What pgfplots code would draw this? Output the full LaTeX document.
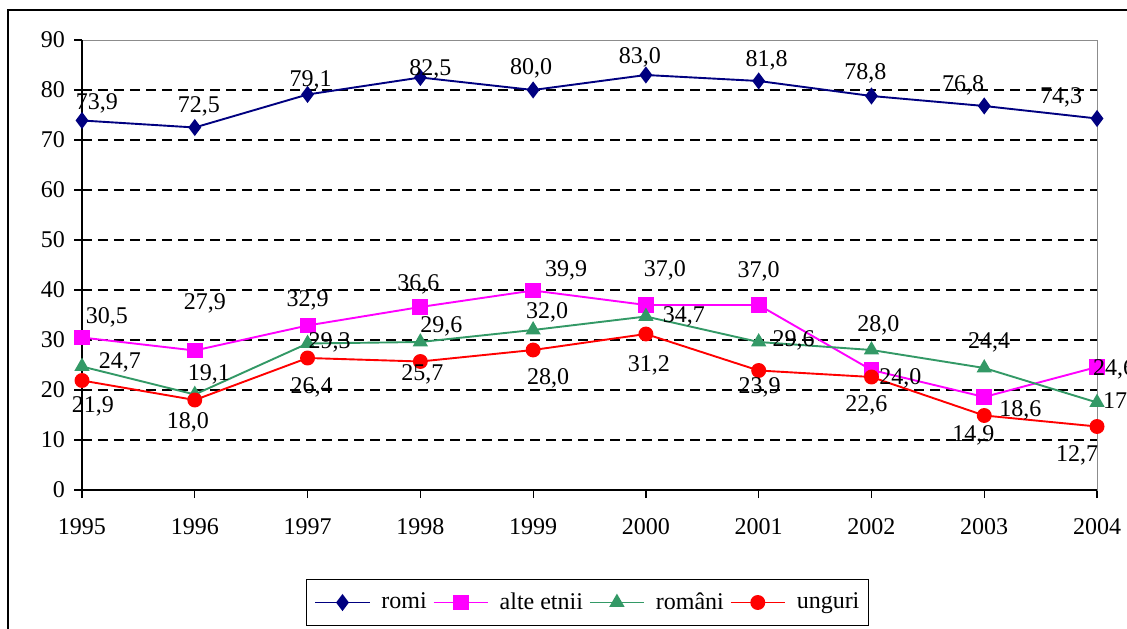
\documentclass[border=0pt]{standalone}
\usepackage{fontspec}
\setmainfont{Liberation Serif}
\usepackage{pgfplots}
\pgfplotsset{compat=1.18}
\usepackage{pgfplotstable}
\definecolor{cromi}{HTML}{000080}
\definecolor{calte}{HTML}{FF00FF}
\definecolor{cromani}{HTML}{339966}
\definecolor{cunguri}{HTML}{FF0000}

\pgfplotstableread{
x y dx dy
1995 73.9 15 17
1996 72.5 4 21
1997 79.1 3 14
1998 82.5 10 8
1999 80.0 -2 22
2000 83.0 -6 18
2001 81.8 8 21
2002 78.8 -6 23
2003 76.8 -21 21
2004 74.3 -36 21
}\tromi

\pgfplotstableread{
x y dx dy
1995 30.5 25 20
1996 27.9 10 47
1997 32.9 0 25
1998 36.6 -2 23
1999 39.9 33 20
2000 37.0 19 35
2001 37.0 0 34
2002 24.0 29 -8
2003 18.6 36 -13
2004 24.6 17 -2
}\talte

\pgfplotstableread{
x y dx dy
1995 24.7 38 4
1996 19.1 14 20
1997 29.3 22 1
1998 29.6 21 16
1999 32.0 14 18
2000 34.7 38 0
2001 29.6 35 2
2002 28.0 7 25
2003 24.4 5 26
2004 17.5 27 0
}\tromani

\pgfplotstableread{
x y dx dy
1995 21.9 11 -26
1996 18.0 -7 -22
1997 26.4 4 -29
1998 25.7 2 -13
1999 28.0 15 -28
2000 31.2 3 -31
2001 23.9 1 -17
2002 22.6 -5 -28
2003 14.9 -11 -20
2004 12.7 -20 -29
}\tunguri

\begin{document}
\fontsize{24}{28}\selectfont%
\begin{tikzpicture}
\useasboundingbox (-82pt,-139pt) rectangle (1045pt,490pt);
\fill[white] (-82pt,-139pt) rectangle (1045pt,490pt);
\draw[black, line width=1.5pt] (-74pt,-160pt) -- (-74pt,480pt) -- (1070pt,480pt);
\begin{axis}[
  scale only axis, width=1015pt, height=450pt,
  xmin=1995, xmax=2004, ymin=0, ymax=90,
  xtick={1995,1996,...,2004}, ytick={0,10,...,90},
  /pgf/number format/assume math mode=true,
  xticklabel style={/pgf/number format/1000 sep=, yshift=-12pt},
  yticklabel style={xshift=-1pt},
  tick align=outside, xtick pos=bottom, ytick pos=left,
  major tick length=8pt,
  tick style={black, line width=1.2pt},
  axis line style={black!45, line width=0.8pt},
  extra y ticks={10,20,...,80}, extra y tick labels={},
  extra y tick style={grid=major, major tick length=0pt},
  major grid style={black, line width=1.2pt, dash pattern=on 10pt off 6pt},
  clip=false,
  legend columns=4,
  legend style={at={(0.498,-0.25)}, anchor=center, draw=black, line width=1.2pt,
    /tikz/every even column/.append style={column sep=5pt},
    /tikz/every odd column/.append style={column sep=10pt},
    inner xsep=8pt, inner ysep=4pt, minimum height=38pt,
    nodes={inner xsep=1pt, inner ysep=6pt}},
  legend image code/.code={
    \draw[mark repeat=2,mark phase=2,#1] plot coordinates {(0pt,0pt) (27pt,0pt) (54pt,0pt)};
  },
  nodes near coords={\pgfmathprintnumber[fixed,fixed zerofill,precision=1,use comma]{\pgfplotspointmeta}},
  visualization depends on={\thisrow{dx} \as \dx},
  visualization depends on={\thisrow{dy} \as \dy},
  nodes near coords style={anchor=center, xshift=\dx pt, yshift=\dy pt, text=black, inner sep=0pt},
  every axis plot/.append style={line width=1.9pt},
]
\draw[black, line width=1.5pt] (rel axis cs:0,1) -- (rel axis cs:0,0) -- (rel axis cs:1,0);
\addplot[color=cromi, mark=diamond*, mark size=7pt, mark options={solid}] table[x=x,y=y] {\tromi};
\addlegendentry{romi}
\addplot[color=calte, mark=square*, mark size=7pt] table[x=x,y=y] {\talte};
\addlegendentry{alte etnii}
\addplot[color=cromani, mark=triangle*, mark size=7pt] table[x=x,y=y] {\tromani};
\addlegendentry{români}
\addplot[color=cunguri, mark=*, mark size=6.5pt] table[x=x,y=y] {\tunguri};
\addlegendentry{unguri}
\end{axis}
\end{tikzpicture}
\end{document}
